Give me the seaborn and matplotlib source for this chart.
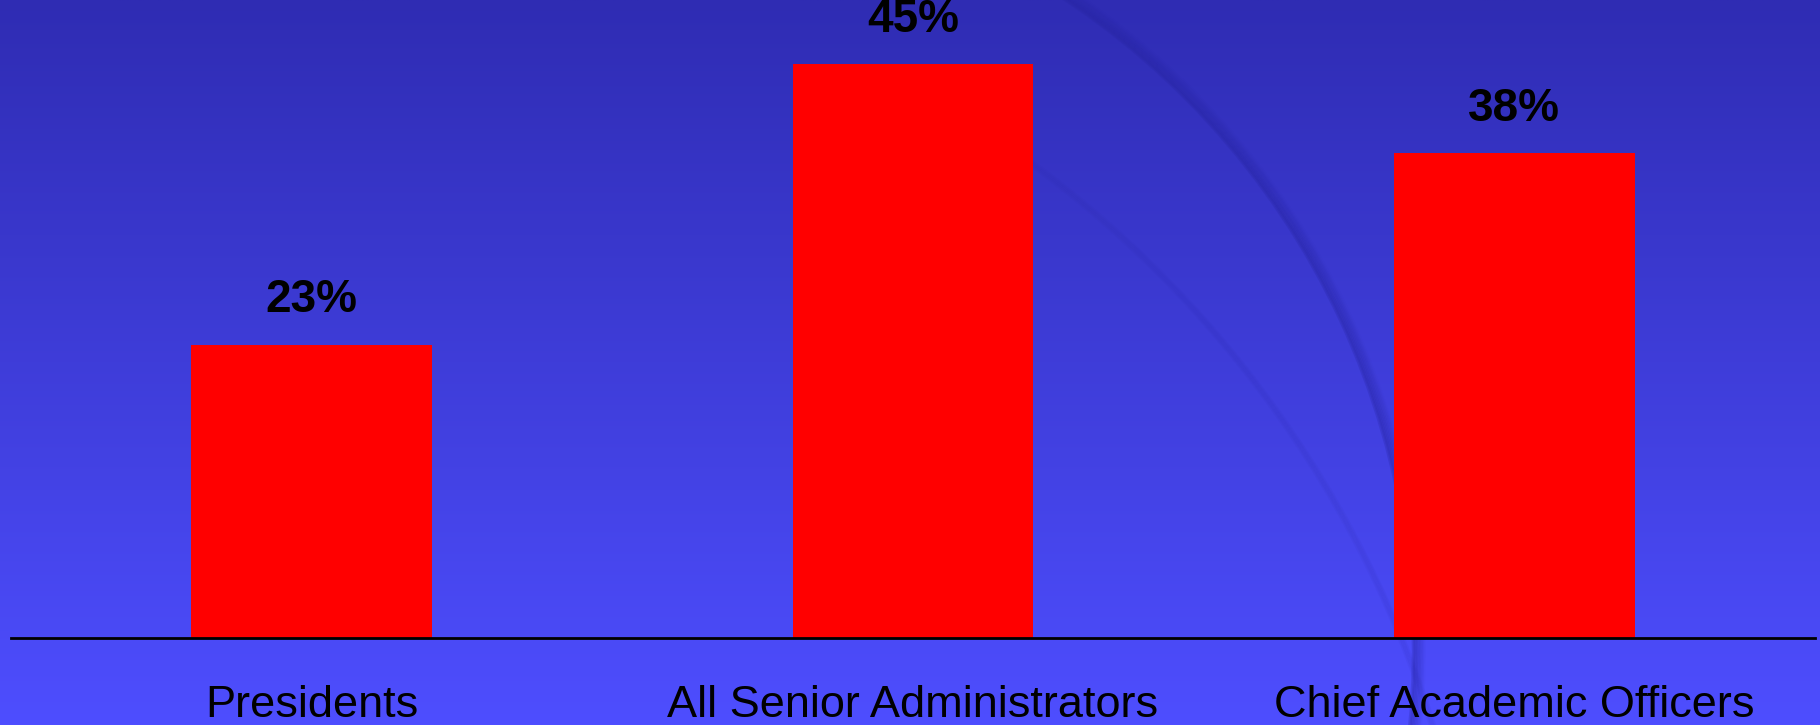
import numpy as np
import pandas as pd
import seaborn as sns
import matplotlib.pyplot as plt
from matplotlib.patches import Arc

# data
groups = ["Presidents", "All Senior Administrators", "Chief Academic Officers"]
shares = [23, 45, 38]
value_labels = ["23%", "45%", "38%"]

df = pd.DataFrame({"group": groups, "share": shares})

sns.set_theme(style="white")
plt.rcParams['font.family'] = ['Liberation Sans', 'DejaVu Sans']

W, H = 1820, 725
fig = plt.figure(figsize=(W / 100, H / 100), dpi=100)

# blue gradient background (pixel coords)
bg = fig.add_axes([0, 0, 1, 1], zorder=0)
top = np.array([0x2f, 0x2c, 0xb3]) / 255
bottom = np.array([0x4e, 0x4e, 0xff]) / 255
t = np.linspace(0, 1, 256)[:, None]
grad = top * (1 - t) + bottom * t
grad = np.repeat(grad[:, None, :], 8, axis=1)
bg.imshow(grad, aspect="auto", extent=[0, W, H, 0])

# soft decorative arcs
for k in range(8):
    r = 792 - k * 1.5
    bg.add_patch(Arc((632, 650), 2 * r, 2 * r, theta1=-60, theta2=10,
                     color="#2624a0", lw=2.5, alpha=0.04 + 0.03 * k))
for k in range(4):
    r = 1109 - k * 1.5
    bg.add_patch(Arc((376, 1055), 2 * r, 2 * r, theta1=-62, theta2=-15,
                     color="#2a28a8", lw=2, alpha=0.07))
bg.set_xlim(0, W)
bg.set_ylim(H, 0)
bg.axis("off")

ax = fig.add_axes([11 / W, 87 / H, 1804 / W, 638 / H], zorder=1)
ax.patch.set_alpha(0)
sns.barplot(data=df, x="group", y="share", color="#ff0000", width=0.4,
            saturation=1, linewidth=0, edgecolor="none", ax=ax)

for i, (v, lab) in enumerate(zip(shares, value_labels)):
    ax.annotate(lab, (i, v), xytext=(0, 16), textcoords="offset points",
                ha="center", va="bottom", fontsize=33, fontweight="bold",
                color="black")

ax.set_xlim(-0.5, 2.5)
ax.set_ylim(0, 50)
ax.set_xlabel("")
ax.set_ylabel("")
ax.set_yticks([])
ax.tick_params(axis="x", length=0, pad=34, labelsize=32.5, labelcolor="black")
for s in ["top", "right", "left"]:
    ax.spines[s].set_visible(False)
ax.spines["bottom"].set_color("black")
ax.spines["bottom"].set_linewidth(2)

plt.savefig("out.png", dpi=100)
plt.close()
